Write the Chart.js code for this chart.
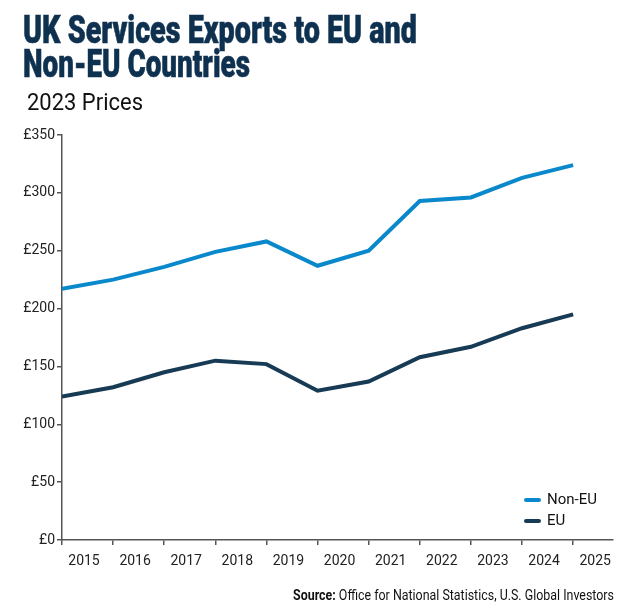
<!DOCTYPE html>
<html>
<head>
<meta charset="utf-8">
<script src="https://cdn.jsdelivr.net/npm/chart.js@4.4.1/dist/chart.umd.min.js"></script>
<style>
    html, body { margin: 0; padding: 0; background: #fff; }
    #wrap { position: relative; width: 632px; height: 611px; overflow: hidden; }
    #chart { position: absolute; left: 0; top: 0; }
    .txt { position: absolute; white-space: nowrap; transform-origin: 0 0; line-height: 1; font-family: Roboto, sans-serif; }
    .title { font-weight: 900; font-size: 38px; color: #0f3150; left: 23px; -webkit-text-stroke: 0.6px #0f3150; }
    .sub { font-size: 24px; color: #111; left: 27px; top: 90px; }
    .source { font-size: 14px; color: #111; top: 588px; }
    .legend { position: absolute; left: 524px; font-family: Roboto, sans-serif; font-size: 15px; color: #111; line-height: 1; }
    .legend span.swatch { position: absolute; left: 0; width: 17px; height: 4px; border-radius: 2px; }
    .legend span.lbl { position: absolute; left: 23px; white-space: nowrap; }
</style>
</head>
<body>
<div id="wrap">
    <canvas id="chart" width="632" height="611"></canvas>
    <div class="txt title" id="t1" style="top:11px">UK Services Exports to EU and</div>
    <div class="txt title" id="t2" style="top:45px">Non-EU Countries</div>
    <div class="txt sub" id="sub">2023 Prices</div>
    <div class="txt source" id="src"><b>Source:</b> Office for National Statistics, U.S. Global Investors</div>
    <div id="legend"></div>
</div>
<script>
// Data (billions of pounds, 2023 prices)
const years = [2015, 2016, 2017, 2018, 2019, 2020, 2021, 2022, 2023, 2024, 2025];
const nonEU = [217, 225, 236, 249, 258, 237, 250, 293, 296, 313, 324];
const eu = [124, 132, 145, 155, 152, 129, 137, 158, 167, 183, 195];
const yTicks = [0, 50, 100, 150, 200, 250, 300, 350];

const seriesNames = ['Non-EU', 'EU'];
const seriesColors = ['#0a88cc', '#173a55'];

document.addEventListener('DOMContentLoaded', () => {
    initializeChart();
    document.fonts.ready.then(fitTexts);
});

// Tarik teks supaya lebarnya sama dengan gambar asli
function fitTo(el, width) {
    const w = el.getBoundingClientRect().width;
    el.style.transform = 'scaleX(' + (width / w) + ')';
}

function fitTexts() {
    fitTo(document.getElementById('t1'), 394);
    fitTo(document.getElementById('t2'), 227);
    fitTo(document.getElementById('sub'), 116);
    const src = document.getElementById('src');
    fitTo(src, 321);
    src.style.left = (614 - 321) + 'px';
}

function initializeChart() {
    const axisColor = '#555';
    const tickFont = { family: 'Roboto', size: 14 };

    const chart = new Chart(document.getElementById('chart'), {
        type: 'line',
        data: {
            datasets: [
                {
                    label: seriesNames[0],
                    data: years.map((y, i) => ({ x: y, y: nonEU[i] })),
                    borderColor: seriesColors[0],
                    backgroundColor: seriesColors[0],
                    borderWidth: 4,
                    pointRadius: 0,
                    tension: 0
                },
                {
                    label: seriesNames[1],
                    data: years.map((y, i) => ({ x: y, y: eu[i] })),
                    borderColor: seriesColors[1],
                    backgroundColor: seriesColors[1],
                    borderWidth: 4,
                    pointRadius: 0,
                    tension: 0
                }
            ]
        },
        options: {
            responsive: false,
            animation: false,
            layout: { padding: { top: 135, right: 19, left: 0, bottom: 0 } },
            plugins: {
                legend: { display: false },
                tooltip: { enabled: false }
            },
            scales: {
                x: {
                    type: 'linear',
                    min: years[0],
                    max: years[years.length - 1] + 0.78,
                    afterFit: (s) => { s.height = 71; },
                    afterBuildTicks: (s) => { s.ticks = years.map(v => ({ value: v })); },
                    grid: { drawOnChartArea: false, tickLength: 5, color: axisColor, tickColor: axisColor, lineWidth: 1.5 },
                    border: { color: axisColor, width: 1.5 },
                    ticks: {
                        color: '#222',
                        font: tickFont,
                        padding: 8,
                        labelOffset: 22,
                        maxRotation: 0,
                        autoSkip: false,
                        callback: (v) => String(v)
                    }
                },
                y: {
                    min: yTicks[0],
                    max: yTicks[yTicks.length - 1],
                    afterFit: (s) => { s.width = 62; },
                    afterBuildTicks: (s) => { s.ticks = yTicks.map(v => ({ value: v })); },
                    grid: { drawOnChartArea: false, tickLength: 5, color: axisColor, tickColor: axisColor, lineWidth: 1.5 },
                    border: { color: axisColor, width: 1.5 },
                    ticks: {
                        color: '#222',
                        font: tickFont,
                        padding: 2,
                        callback: (v) => '£' + v
                    }
                }
            }
        }
    });

    // Legenda manual di pojok kanan bawah
    const legend = document.getElementById('legend');
    const tops = [500, 521];
    chart.data.datasets.forEach((ds, i) => {
        const item = document.createElement('div');
        item.className = 'legend';
        item.style.top = tops[i] + 'px';
        item.innerHTML = '<span class="swatch" style="top:-2px;background:' + ds.borderColor + '"></span>' +
            '<span class="lbl" style="top:-8px">' + ds.label + '</span>';
        legend.appendChild(item);
    });
}
</script>
</body>
</html>
